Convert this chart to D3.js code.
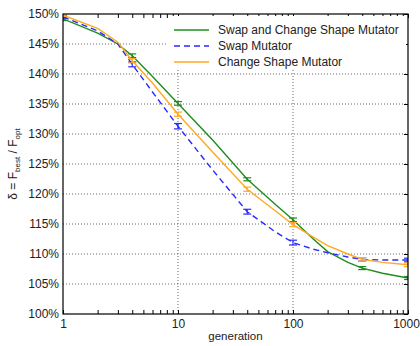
<!DOCTYPE html>
<html>
<head>
<meta charset="utf-8">
<script src="https://cdn.jsdelivr.net/npm/d3@7"></script>
<style>
  body { margin: 0; background: #fff; }
  text { font-family: "Liberation Sans", Arial, Helvetica, sans-serif; }
</style>
</head>
<body>
<svg id="chart" width="420" height="346"></svg>
<script>
// generations where the curves are sampled
const generations = [1, 2, 3, 4, 6, 10, 20, 40, 70, 100, 150, 200, 300, 400, 600, 1000];

// delta in percent
const swapAndChange = [149.2, 146.8, 145.0, 143.05, 139.6, 135.1, 129.0, 122.45, 118.3, 115.7, 112.5, 110.4, 108.6, 107.65, 106.8, 106.0];
const swapOnly      = [149.5, 147.2, 145.0, 141.6, 137.0, 131.3, 124.0, 117.05, 113.7, 111.9, 110.8, 110.2, 109.5, 109.1, 109.0, 109.0];
const changeShape   = [149.8, 147.6, 145.3, 142.2, 138.5, 133.3, 127.0, 120.8, 117.2, 114.9, 112.8, 111.4, 110.0, 109.1, 108.6, 108.2];

// error bars (half width, percent)
const errGenerations = [1, 4, 10, 40, 100, 400, 1000];
const swapAndChangeErr = [0.3, 0.3, 0.3, 0.25, 0.3, 0.25, 0.25];
const swapOnlyErr      = [0.2, 0.4, 0.45, 0.4, 0.4, 0.3, 0.3];
const changeShapeErr   = [0.2, 0.35, 0.35, 0.35, 0.35, 0.3, 0.3];

const xTicks = [1, 10, 100, 1000];
const yTicks = [100, 105, 110, 115, 120, 125, 130, 135, 140, 145, 150];

const series = [
  { name: "Swap and Change Shape Mutator", values: swapAndChange, err: swapAndChangeErr, color: "#1e8c1e", dash: null },
  { name: "Swap Mutator", values: swapOnly, err: swapOnlyErr, color: "#2a2aff", dash: "6,4" },
  { name: "Change Shape Mutator", values: changeShape, err: changeShapeErr, color: "#ffaa22", dash: null }
];

const margin = { top: 14, right: 12, bottom: 32, left: 63 };
const width = 420, height = 346;

const x = d3.scaleLog().domain([1, 1000]).range([margin.left, width - margin.right]);
const y = d3.scaleLinear().domain([100, 150]).range([height - margin.bottom, margin.top]);

const svg = d3.select("#chart");

svg.append("defs").append("clipPath").attr("id", "clip")
  .append("rect")
  .attr("x", margin.left).attr("y", margin.top)
  .attr("width", x(1000) - x(1)).attr("height", y(100) - y(150));

// grid
const grid = svg.append("g");
grid.selectAll("line.gy")
  .data(yTicks.filter(d => d > 100 && d < 150))
  .join("line")
  .attr("x1", x(1)).attr("x2", x(1000))
  .attr("y1", d => y(d)).attr("y2", d => y(d))
  .attr("stroke", "#444").attr("stroke-width", 0.8).attr("stroke-dasharray", "1,2");
grid.selectAll("line.gx")
  .data([10, 100])
  .join("line")
  .attr("x1", d => x(d)).attr("x2", d => x(d))
  .attr("y1", y(100)).attr("y2", y(150))
  .attr("stroke", "#444").attr("stroke-width", 0.8).attr("stroke-dasharray", "1,2");

// minor / major ticks, inward, on top and bottom
const logTicks = [];
for (let dec = 1; dec < 1000; dec *= 10) {
  for (let k = 1; k < 10; k++) logTicks.push(dec * k);
}
logTicks.push(1000);

svg.append("g").attr("transform", `translate(0,${y(100)})`)
  .call(d3.axisBottom(x).tickValues(logTicks).tickSize(-4).tickFormat(""))
  .call(g => g.select(".domain").remove());
svg.append("g").attr("transform", `translate(0,${y(150)})`)
  .call(d3.axisTop(x).tickValues(logTicks).tickSize(-4).tickFormat(""))
  .call(g => g.select(".domain").remove());
svg.append("g").attr("transform", `translate(${x(1000)},0)`)
  .call(d3.axisRight(y).tickValues(yTicks).tickSize(-4).tickFormat(""))
  .call(g => g.select(".domain").remove());

// tick labels
svg.append("g").attr("transform", `translate(${x(1)},0)`)
  .call(d3.axisLeft(y).tickValues(yTicks).tickSize(0).tickPadding(4).tickFormat(d => d + "%"))
  .call(g => g.select(".domain").remove())
  .call(g => g.selectAll("text").attr("font-size", 12).attr("fill", "#222")
    .style("font-family", "'Liberation Sans', Arial, sans-serif"));

svg.append("g").attr("transform", `translate(0,${y(100)})`)
  .call(d3.axisBottom(x).tickValues(xTicks).tickSize(0).tickPadding(5).tickFormat(d3.format("d")))
  .call(g => g.select(".domain").remove())
  .call(g => g.selectAll("text").attr("font-size", 12).attr("fill", "#222")
    .style("font-family", "'Liberation Sans', Arial, sans-serif"))
  // keep the last label inside the window
  .call(g => g.selectAll(".tick").filter(d => d === 1000).select("text").attr("dx", -2));

// lines
const line = d3.line()
  .x((d, i) => x(generations[i]))
  .y(d => y(d));

const plot = svg.append("g").attr("clip-path", "url(#clip)");

series.forEach(s => {
  plot.append("path")
    .datum(s.values)
    .attr("d", line)
    .attr("fill", "none")
    .attr("stroke", s.color)
    .attr("stroke-width", 1.4)
    .attr("stroke-dasharray", s.dash);

  const bars = errGenerations.map((g, i) => ({
    g, v: s.values[generations.indexOf(g)], e: s.err[i]
  }));
  const eg = plot.append("g").attr("stroke", s.color).attr("stroke-width", 1.2);
  eg.selectAll("line.v").data(bars).join("line")
    .attr("x1", d => x(d.g)).attr("x2", d => x(d.g))
    .attr("y1", d => y(d.v - d.e)).attr("y2", d => y(d.v + d.e));
  eg.selectAll("line.lo").data(bars).join("line")
    .attr("x1", d => x(d.g) - 4).attr("x2", d => x(d.g) + 4)
    .attr("y1", d => y(d.v - d.e)).attr("y2", d => y(d.v - d.e));
  eg.selectAll("line.hi").data(bars).join("line")
    .attr("x1", d => x(d.g) - 4).attr("x2", d => x(d.g) + 4)
    .attr("y1", d => y(d.v + d.e)).attr("y2", d => y(d.v + d.e));
});

// frame
svg.append("rect")
  .attr("x", x(1)).attr("y", y(150))
  .attr("width", x(1000) - x(1)).attr("height", y(100) - y(150))
  .attr("fill", "none").attr("stroke", "#000").attr("stroke-width", 1.2);

// legend
const legend = svg.append("g");
legend.append("rect")
  .attr("x", 168).attr("y", 16).attr("width", 238).attr("height", 54)
  .attr("fill", "#fff");
series.forEach((s, i) => {
  const ly = 30 + i * 16;
  legend.append("line")
    .attr("x1", 174).attr("x2", 209).attr("y1", ly).attr("y2", ly)
    .attr("stroke", s.color).attr("stroke-width", 1.4)
    .attr("stroke-dasharray", s.dash);
  legend.append("text")
    .attr("x", 218).attr("y", ly + 4)
    .attr("font-size", 12).attr("fill", "#222")
    .text(s.name);
});

// axis titles
svg.append("text")
  .attr("x", (x(1) + x(1000)) / 2).attr("y", 340)
  .attr("text-anchor", "middle").attr("font-size", 11.5).attr("fill", "#222")
  .text("generation");

const yl = svg.append("text")
  .attr("transform", `translate(17,${(y(100) + y(150)) / 2}) rotate(-90)`)
  .attr("text-anchor", "middle").attr("font-size", 12).attr("fill", "#222");
yl.append("tspan").text("δ = F");
yl.append("tspan").attr("font-size", 8).attr("dy", 3).text("best");
yl.append("tspan").attr("dy", -3).text(" / F");
yl.append("tspan").attr("font-size", 8).attr("dy", 3).text("opt");
</script>
</body>
</html>
